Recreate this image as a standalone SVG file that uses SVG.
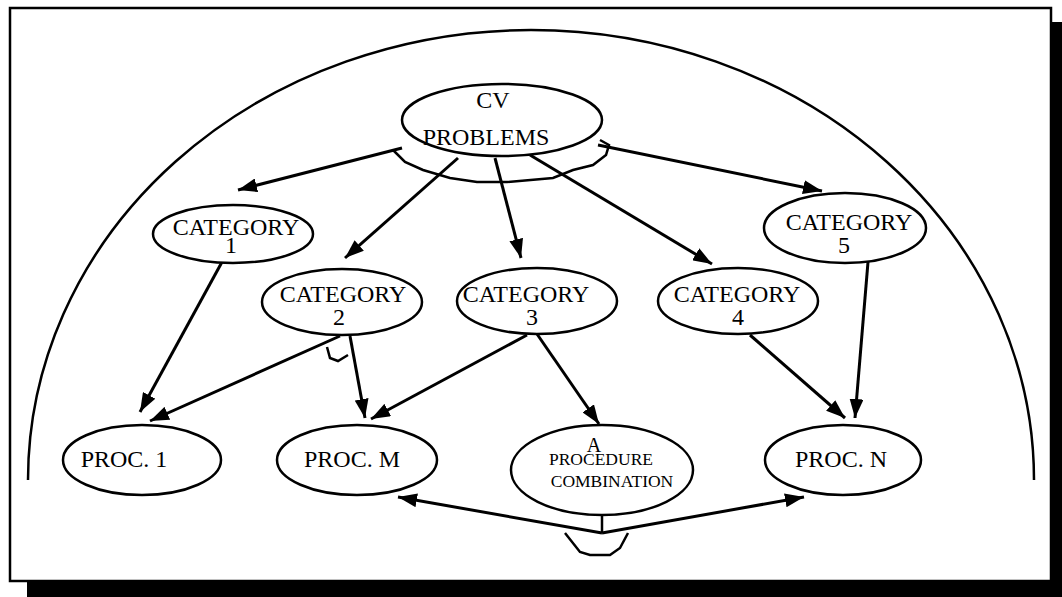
<svg xmlns="http://www.w3.org/2000/svg" width="1062" height="597" viewBox="0 0 1062 597">
  <style>
    .node { fill: #fff; stroke: #000; stroke-width: 2.5; }
    .lbl { font-family: "Liberation Serif", "Times New Roman", serif; font-size: 24px; fill: #000; text-anchor: middle; }
    .sm { font-size: 17.5px; }
    .edge { fill: none; stroke: #000; stroke-width: 3; marker-end: url(#head); }
    .plain { fill: none; stroke: #000; stroke-width: 2.5; }
  </style>
  <defs>
    <marker id="head" markerUnits="userSpaceOnUse" markerWidth="20" markerHeight="14" refX="19" refY="7" orient="auto">
      <path d="M0,0 L19,7 L0,14 z" fill="#000"/>
    </marker>
  </defs>

  <!-- page frame with drop shadow -->
  <rect x="27" y="22" width="1040" height="580" fill="#000"/>
  <rect x="10" y="8" width="1041" height="573" fill="#fff" stroke="#000" stroke-width="2.5"/>

  <!-- enclosing dome -->
  <path class="plain" d="M28,480 A503,450 0 0 1 1034,480"/>

  <!-- connectors -->
  <g id="connectors">
    <line class="edge" x1="402" y1="148" x2="238" y2="190"/>
    <line class="edge" x1="458" y1="158" x2="345" y2="258"/>
    <line class="edge" x1="495" y1="158" x2="521" y2="258"/>
    <line class="edge" x1="530" y1="155" x2="712" y2="264"/>
    <line class="edge" x1="598" y1="145" x2="822" y2="191"/>
    <line class="edge" x1="222" y1="262" x2="140" y2="412"/>
    <line class="edge" x1="340" y1="336" x2="150" y2="421"/>
    <line class="edge" x1="350" y1="336" x2="365" y2="418"/>
    <line class="edge" x1="527" y1="335" x2="371" y2="419"/>
    <line class="edge" x1="537" y1="334" x2="599" y2="424"/>
    <line class="edge" x1="750" y1="335" x2="845" y2="418"/>
    <line class="edge" x1="868" y1="262" x2="855" y2="418"/>
    <line class="plain" x1="602" y1="515" x2="602" y2="533" stroke-width="3"/>
    <line class="edge" x1="602" y1="533" x2="398" y2="497"/>
    <line class="edge" x1="602" y1="533" x2="804" y2="497"/>
    <!-- joint brackets -->
    <polyline class="plain" points="393,150 405,162 423,170 450,178 477,182 507,182 553,178 573,170 593,165 606,155 609,145 600,140"/>
    <polyline class="plain" stroke-width="2" points="327,347 330,358 338,361 348,355"/>
    <polyline class="plain" points="565,533 580,552 590,555 610,555 620,548 628,533"/>
  </g>

  <g id="cv-problems">
    <ellipse class="node" cx="502" cy="120" rx="100" ry="36"/>
    <text class="lbl" x="493" y="108">CV</text>
    <text class="lbl" x="486" y="145">PROBLEMS</text>
  </g>

  <g id="category-1">
    <ellipse class="node" cx="233" cy="234" rx="80" ry="29"/>
    <text class="lbl" x="236" y="235">CATEGORY</text>
    <text class="lbl" x="231" y="253">1</text>
  </g>

  <g id="category-2">
    <ellipse class="node" cx="342" cy="302" rx="80" ry="33"/>
    <text class="lbl" x="343" y="302">CATEGORY</text>
    <text class="lbl" x="339" y="325">2</text>
  </g>

  <g id="category-3">
    <ellipse class="node" cx="537" cy="301" rx="80" ry="33"/>
    <text class="lbl" x="526" y="302">CATEGORY</text>
    <text class="lbl" x="532" y="325">3</text>
  </g>

  <g id="category-4">
    <ellipse class="node" cx="738" cy="301" rx="80" ry="33"/>
    <text class="lbl" x="737" y="302">CATEGORY</text>
    <text class="lbl" x="738" y="325">4</text>
  </g>

  <g id="category-5">
    <ellipse class="node" cx="845" cy="228" rx="81" ry="35"/>
    <text class="lbl" x="849" y="230">CATEGORY</text>
    <text class="lbl" x="844" y="253">5</text>
  </g>

  <g id="proc-1">
    <ellipse class="node" cx="142" cy="460" rx="79" ry="35"/>
    <text class="lbl" x="124" y="467">PROC. 1</text>
  </g>

  <g id="proc-m">
    <ellipse class="node" cx="357" cy="460" rx="80" ry="35"/>
    <text class="lbl" x="352" y="467">PROC. M</text>
  </g>

  <g id="procedure-combination">
    <ellipse class="node" cx="602" cy="470" rx="91" ry="45"/>
    <text class="lbl" x="594" y="452" style="font-size:20px">A</text>
    <text class="lbl sm" x="601" y="465">PROCEDURE</text>
    <text class="lbl sm" x="612" y="487">COMBINATION</text>
  </g>

  <g id="proc-n">
    <ellipse class="node" cx="843" cy="460" rx="78" ry="35"/>
    <text class="lbl" x="841" y="467">PROC. N</text>
  </g>
</svg>
